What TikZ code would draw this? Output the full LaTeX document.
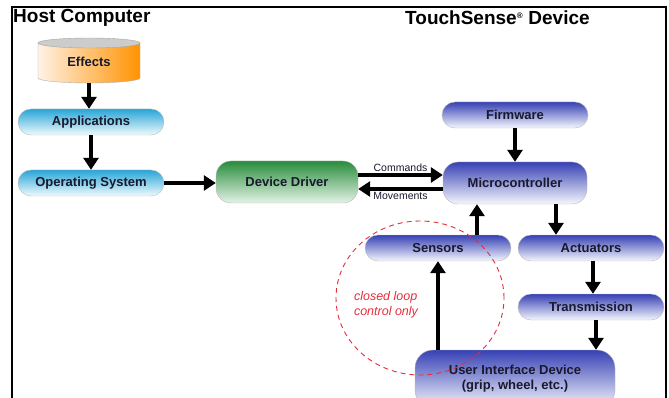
\documentclass[tikz,border=0pt]{standalone}
\usepackage{fontspec}
\setmainfont{Liberation Sans}
\usepackage{tikz}
\usetikzlibrary{arrows.meta,positioning,calc}

\definecolor{bluetop}{RGB}{55,65,180}
\definecolor{bluemid}{RGB}{190,198,238}
\definecolor{bluebot}{RGB}{245,247,253}
\definecolor{cyantop}{RGB}{40,165,215}
\definecolor{cyanmid}{RGB}{175,222,240}
\definecolor{cyanbot}{RGB}{240,250,253}
\definecolor{greentop}{RGB}{40,140,60}
\definecolor{greenmid}{RGB}{150,205,155}
\definecolor{greenbot}{RGB}{228,243,230}
\definecolor{loopred}{RGB}{228,45,60}
\definecolor{ink}{RGB}{25,25,45}

\begin{document}
\begin{tikzpicture}[x=1pt, y=-1pt, >={Triangle[length=12pt,width=15pt]},
  font=\fontsize{13}{15}\selectfont\bfseries,
  pill/.style={draw=gray!55, text=ink, rounded corners=13pt, minimum width=146pt, minimum height=26pt, inner sep=0pt},
  blu/.style={pill, top color=bluetop, middle color=bluemid, bottom color=bluebot},
  cyn/.style={pill, top color=cyantop, middle color=cyanmid, bottom color=cyanbot},
  grn/.style={pill, top color=greentop, middle color=greenmid, bottom color=greenbot},
  arr/.style={line width=3.6pt, ->},
  lbl/.style={font=\fontsize{10.5}{12}\selectfont, text=ink, inner sep=1pt}]
  \useasboundingbox (0,0) rectangle (669,398);
  \clip (0,0) rectangle (669,398);
  % frame and headings
  \draw[line width=1.3pt] (12,398) -- (12,7) -- (666,7) -- (666,398);
  \node[anchor=west, inner sep=0pt, font=\fontsize{19}{21}\selectfont\bfseries] (host) at (13,18) {Host Computer};
  \node[anchor=west, inner sep=0pt, font=\fontsize{19}{21}\selectfont\bfseries] (dev) at (405,18) {TouchSense\textsuperscript{\fontsize{8}{8}\selectfont ®} Device};
  % host side
  \path[draw=gray!60, left color=orange!10, right color=orange!85!yellow] (38,43) -- (38,78)
    arc[start angle=180, end angle=360, x radius=51pt, y radius=5pt] -- (140,43) -- cycle;
  \draw[gray!70, fill=gray!40] (89,43) ellipse [x radius=51pt, y radius=5pt];
  \node[text=ink] (fx) at (89,62) {Effects};
  \coordinate (fxb) at (89,83);
  \node[cyn] (app) at (91,122) {Applications};
  \node[cyn] (os) at (91,183) {Operating System};
  \node[grn, minimum width=142pt, minimum height=42pt, rounded corners=15pt] (dd) at (287,182) {Device Driver};
  % device side
  \node[blu] (fw) at (515,115) {Firmware};
  \node[blu, minimum width=144pt, minimum height=42pt, rounded corners=15pt] (mc) at (515,183) {Microcontroller};
  \node[blu] (sens) at (438,248) {Sensors};
  \node[blu] (act) at (591,248) {Actuators};
  \node[blu] (tr) at (591,307) {Transmission};
  \node[blu, minimum width=200pt, minimum height=58pt, rounded corners=18pt, align=center] (uid) at (515,379)
    {User Interface Device\\(grip, wheel, etc.)};
  % arrows
  \draw[arr] (fxb) -- (fxb |- app.north);
  \draw[arr] (app) -- (os);
  \draw[arr] (os.east) -- (os.east -| dd.west);
  \draw[arr] ([yshift=7pt]dd.east) -- ([yshift=7pt]dd.east -| mc.west) node[lbl, midway, above=1pt] {Commands};
  \draw[arr] ([yshift=-6pt]mc.west) -- ([yshift=-6pt]mc.west -| dd.east) node[lbl, midway, below=0pt] {Movements};
  \draw[arr] (fw) -- (mc);
  \draw[arr] ([xshift=39pt]sens.north) -- ([xshift=39pt]sens.north |- mc.south);
  \draw[arr] ([xshift=-35pt]act.north |- mc.south) -- ([xshift=-35pt]act.north);
  \draw[arr] ([xshift=2pt]act.south) -- ([xshift=2pt]tr.north);
  \draw[arr] ([xshift=5pt]tr.south) -- ([xshift=5pt]tr.south |- uid.north);
  \draw[arr] (uid.north -| sens) -- (sens.south);
  % closed loop
  \draw[loopred, line width=0.9pt, dash pattern=on 5pt off 4pt] (420,298) ellipse [x radius=84pt, y radius=77pt];
  \node[text=loopred, align=left, font=\fontsize{12.5}{15}\selectfont\itshape] (cl) at (386,305) {closed loop\\control only};
\end{tikzpicture}
\end{document}
